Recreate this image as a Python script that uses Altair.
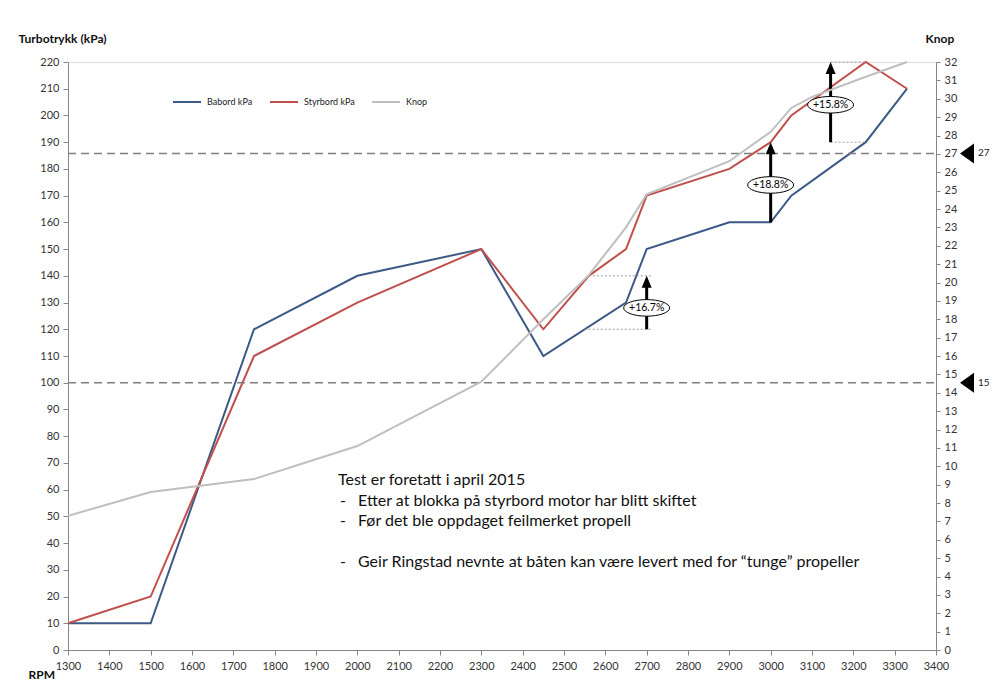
import altair as alt
import pandas as pd

# ---------------- data ----------------
rpm_babord = [1300, 1500, 1750, 2000, 2300, 2450, 2650, 2700, 2900, 3000, 3050, 3230, 3330]
babord_kpa = [10, 10, 120, 140, 150, 110, 130, 150, 160, 160, 170, 190, 210]

rpm_styrbord = [1300, 1500, 1750, 2000, 2300, 2450, 2560, 2650, 2700, 2900, 3000, 3050, 3230, 3330]
styrbord_kpa = [10, 20, 110, 130, 150, 120, 140, 150, 170, 180, 190, 200, 220, 210]

rpm_knop = [1300, 1500, 1750, 2000, 2300, 2450, 2560, 2650, 2700, 2900, 3000, 3050, 3100, 3230, 3330]
knop = [7.3, 8.6, 9.3, 11.1, 14.6, 18.0, 20.4, 23.0, 24.8, 26.6, 28.2, 29.5, 30.1, 31.2, 32.0]

series_names = ["Babord kPa", "Styrbord kPa", "Knop"]
series_colors = ["#3D5A87", "#C0504D", "#BFBFBF"]

# annotation arrows (kPa units)
arrow_rpm = [2700, 3000, 3145]
arrow_from = [120, 160, 190]
arrow_to = [140, 190, 220]
arrow_label = ["+16.7%", "+18.8%", "+15.8%"]
arrow_label_y = [128, 174, 204]

# dotted guide lines
guide_x1 = [2550, 2560, 3145, 3145]
guide_x2 = [2715, 2715, 3230, 3230]
guide_y = [120, 140, 190, 220]

# dashed reference lines (kPa) and their right-hand markers
ref_kpa = [185.8, 100]
ref_label = ["27", "15"]

# text block
note_lines = [
    "Test er foretatt i april 2015",
    "Etter at blokka på styrbord motor har blitt skiftet",
    "Før det ble oppdaget feilmerket propell",
    "Geir Ringstad nevnte at båten kan være levert med for \u201ctunge\u201d propeller",
]
note_dash = ["", "-", "-", "-"]
note_row = [0, 1, 2, 4]

x_ticks = list(range(1300, 3401, 100))
kpa_ticks = list(range(0, 221, 10))
knop_ticks = list(range(0, 33, 1))

# ---------------- frames ----------------
lines = pd.concat([
    pd.DataFrame({"rpm": rpm_babord, "value": babord_kpa, "series": series_names[0]}),
    pd.DataFrame({"rpm": rpm_styrbord, "value": styrbord_kpa, "series": series_names[1]}),
    pd.DataFrame({"rpm": rpm_knop, "value": knop, "series": series_names[2]}),
], ignore_index=True)
kpa_lines = lines[lines.series != "Knop"]
knop_line = lines[lines.series == "Knop"]

arrows = pd.DataFrame({"rpm": arrow_rpm, "y1": arrow_from, "y2": [t - 2 for t in arrow_to],
                       "tip": arrow_to, "label": arrow_label, "ly": arrow_label_y})
guides = pd.DataFrame({"x1": guide_x1, "x2": guide_x2, "y": guide_y})
refs = pd.DataFrame({"y": ref_kpa, "label": ref_label})
notes = pd.DataFrame({"text": note_lines, "dash": note_dash, "row": note_row})

FONT = "Lato"
W, H = 868, 588

xscale = alt.Scale(domain=[1300, 3400], nice=False, zero=False)
x_axis = alt.Axis(values=x_ticks, format="d", title="RPM", titleAngle=0, titleX=-40, titleY=24,
                  titleAlign="left", titleBaseline="middle", titleFontSize=12,
                  titleFontWeight="bold", titleColor="#111", labelFontSize=11,
                  labelColor="#333", tickSize=5, labelPadding=5, grid=False,
                  domainColor="#868686", tickColor="#868686", labelFlush=False)
kpa_scale = alt.Scale(domain=[0, 220], nice=False)
kpa_axis = alt.Axis(values=kpa_ticks, title="Turbotrykk (kPa)", titleAngle=0, titleX=-50,
                    titleY=-24, titleAlign="left", titleBaseline="middle", titleFontSize=12,
                    titleFontWeight="bold", titleColor="#111", labelFontSize=11,
                    labelColor="#333", tickSize=5, labelPadding=4, grid=False,
                    domainColor="#868686", tickColor="#868686")
knop_axis = alt.Axis(values=knop_ticks, orient="right", title="Knop", titleAngle=0, titleX=-11,
                     titleY=-24, titleAlign="left", titleBaseline="middle", titleFontSize=12,
                     titleFontWeight="bold", titleColor="#111", labelFontSize=11,
                     labelColor="#333", tickSize=4, labelPadding=4, grid=False,
                     domainColor="#868686", tickColor="#868686")

X = alt.X("rpm:Q", scale=xscale, axis=x_axis)
Ykpa = lambda f: alt.Y(f, type="quantitative", scale=kpa_scale, axis=kpa_axis)

legend = alt.Legend(title=None, orient="none", legendX=104, legendY=25, direction="horizontal",
                    symbolType="stroke", symbolSize=784, symbolStrokeWidth=2,
                    labelFontSize=9, labelColor="#222", labelOffset=5, columnPadding=13,
                    padding=0)
color = alt.Color("series:N", scale=alt.Scale(domain=series_names, range=series_colors),
                  legend=legend)

kpa_line_layer = alt.Chart(kpa_lines).mark_line(strokeWidth=2).encode(
    x=X, y=Ykpa("value"), color=color, detail="series:N")

dashed = alt.Chart(refs).mark_rule(color="#7F7F7F", strokeWidth=1.5, strokeDash=[8, 5]).encode(
    x=alt.value(0), x2=alt.value(W), y=Ykpa("y"))

ref_tri = alt.Chart(refs).mark_point(shape="M -0.7 0 L 0.7 -1 L 0.7 1 Z", size=400, filled=True,
                                     color="black", opacity=1).encode(
    x=alt.value(899), y=Ykpa("y"))
ref_txt = alt.Chart(refs).mark_text(align="left", baseline="middle", fontSize=10, font=FONT,
                                    color="#222").encode(
    x=alt.value(910), y=Ykpa("y"), text="label:N")

guide_layer = alt.Chart(guides).mark_rule(color="#9A9A9A", strokeWidth=1, strokeDash=[2, 2]).encode(
    x=alt.X("x1:Q", scale=xscale, axis=x_axis), x2="x2:Q", y=Ykpa("y"))

shaft = alt.Chart(arrows).mark_rule(color="black", strokeWidth=3).encode(
    x=alt.X("rpm:Q", scale=xscale, axis=x_axis), y=Ykpa("y1"), y2="y2:Q")
head = alt.Chart(arrows).mark_point(shape="M 0 0 L -0.5 1.2 L 0.5 1.2 Z", size=400, filled=True,
                                    color="black", opacity=1).encode(
    x=alt.X("rpm:Q", scale=xscale, axis=x_axis), y=Ykpa("tip"))
ellipse = alt.Chart(arrows).mark_point(
    shape="M -1 0 A 1 0.36 0 1 0 1 0 A 1 0.36 0 1 0 -1 0 Z", size=2116, filled=False,
    fill="white", fillOpacity=1, stroke="black", strokeWidth=1, opacity=1).encode(
    x=alt.X("rpm:Q", scale=xscale, axis=x_axis), y=Ykpa("ly"))
ell_txt = alt.Chart(arrows).mark_text(fontSize=10.5, font=FONT, color="black", baseline="middle").encode(
    x=alt.X("rpm:Q", scale=xscale, axis=x_axis), y=Ykpa("ly"), text="label:N")

note_txt = alt.Chart(notes).transform_calculate(
    py="418 + datum.row * 20.5",
    px="datum.dash == '' ? 270 : 290",
).mark_text(align="left", baseline="middle", fontSize=16, font=FONT, color="#111").encode(
    x=alt.X("px:Q", scale=None), y=alt.Y("py:Q", scale=None), text="text:N")
note_dash_txt = alt.Chart(notes).transform_filter("datum.dash != ''").transform_calculate(
    py="418 + datum.row * 20.5",
).mark_text(align="left", baseline="middle", fontSize=16, font=FONT, color="#111").encode(
    x=alt.value(272), y=alt.Y("py:Q", scale=None), text="dash:N")

kpa_group = alt.layer(kpa_line_layer, dashed, guide_layer, shaft, head, ellipse, ell_txt,
                      ref_tri, ref_txt)

knop_layer = alt.Chart(knop_line).mark_line(strokeWidth=2).encode(
    x=X,
    y=alt.Y("value:Q", scale=alt.Scale(domain=[0, 32], nice=False), axis=knop_axis),
    color=color, detail="series:N")

chart = alt.layer(kpa_group, knop_layer, note_txt, note_dash_txt).resolve_scale(
    y="independent").properties(
    width=W, height=H,
    autosize=alt.AutoSizeParams(type="none"),
    padding={"left": 60, "top": 54, "right": 56, "bottom": 32},
    background="white",
).configure_view(stroke=None).configure(font=FONT)

chart.save("out.html", embed_options={"renderer": "svg", "actions": False})
